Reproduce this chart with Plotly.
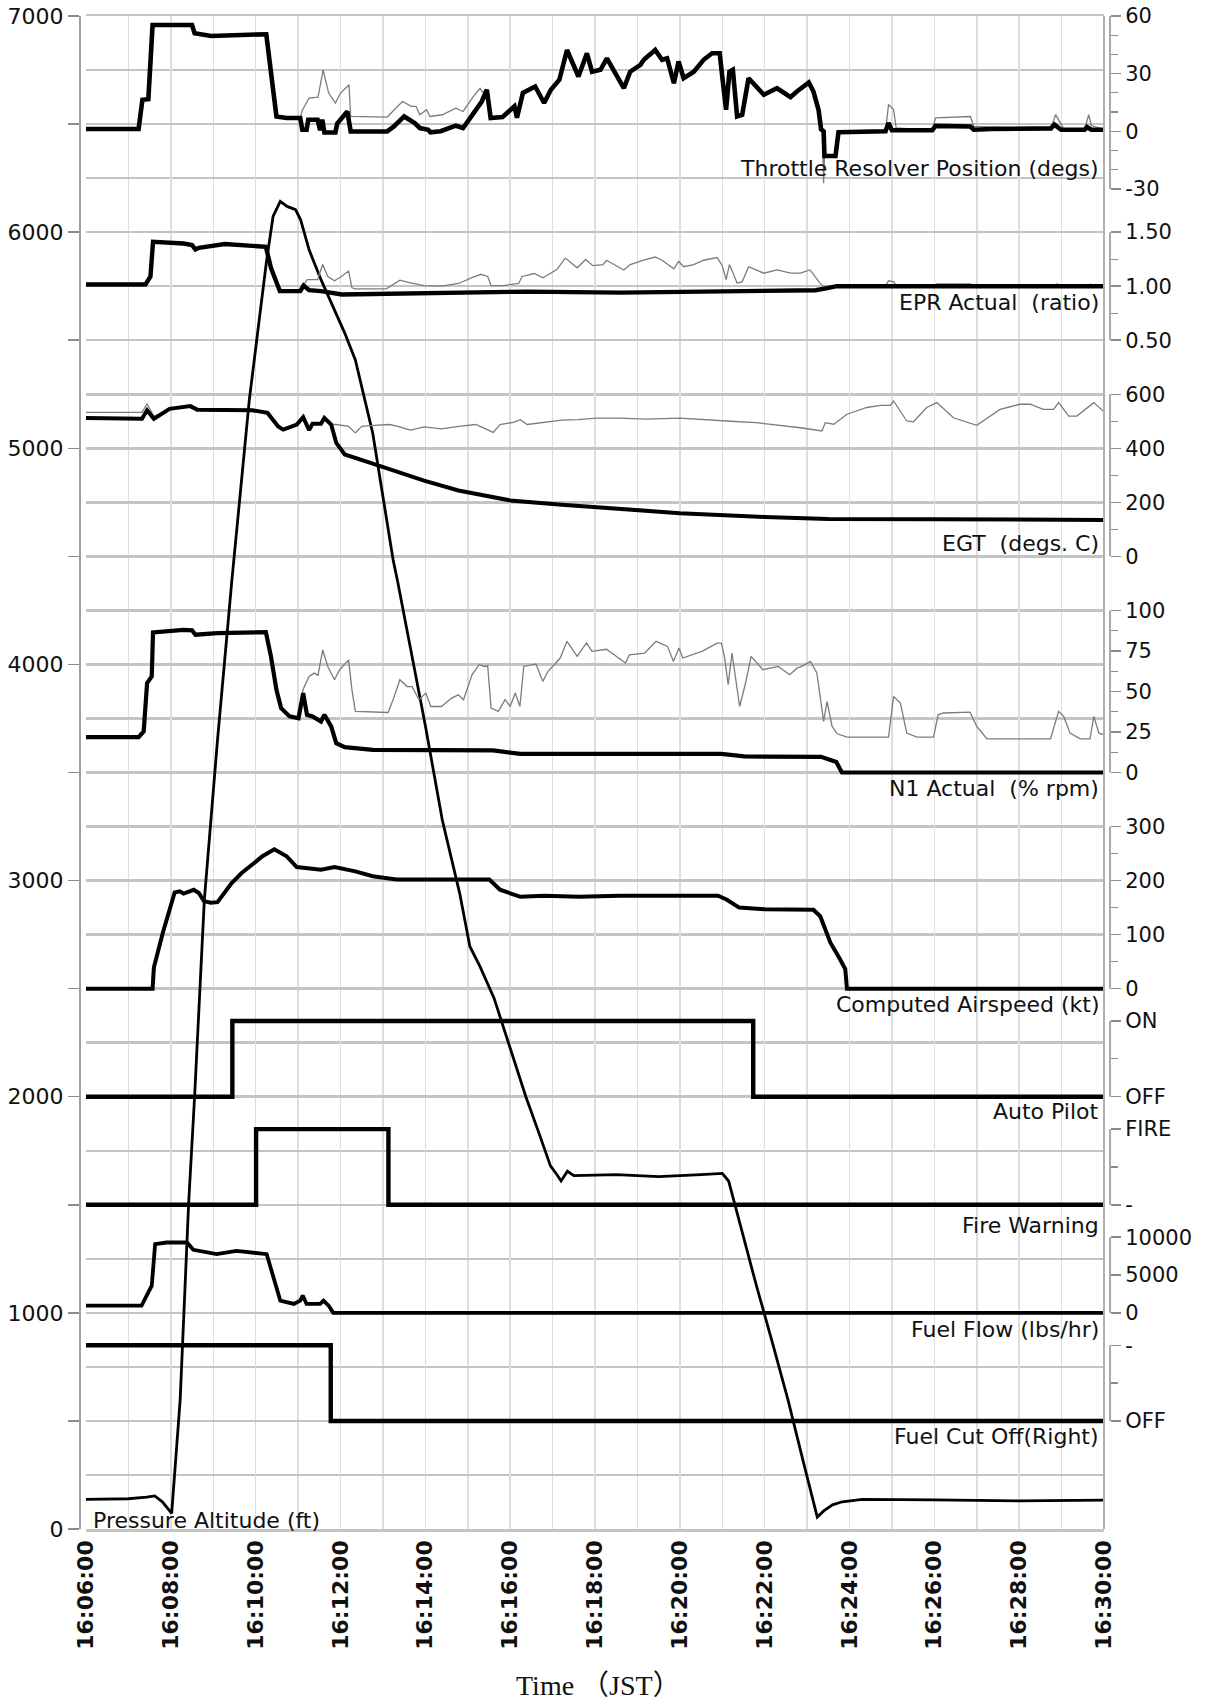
import pandas as pd
import plotly.graph_objects as go

# ---------------- DATA (time = minutes after 16:06:00 JST) ----------------
T0 = pd.Timestamp("2000-01-01 16:06:00")

# Throttle Resolver Position (degs)
thr_bold = [(0, 1.2), (1.24, 1.2), (1.33, 16.4), (1.47, 16.7), (1.57, 55.3), (2.5, 55.3), (2.56, 51), (2.95, 49.6),
            (4.25, 50.5), (4.37, 26.8), (4.49, 7.7), (4.73, 6.9), (5.05, 6.9), (5.1, 0.8), (5.2, 0.8), (5.24, 6),
            (5.46, 6), (5.52, 0.5), (5.57, 6), (5.62, -0.6), (5.88, -0.6), (5.92, 3.9), (6.16, 10.3), (6.24, -0.1),
            (7.1, -0.1), (7.26, 2.5), (7.5, 7.7), (7.75, 4.3), (7.87, 1.7), (8.07, 0.8), (8.12, -0.5), (8.36, 0),
            (8.72, 2.9), (8.89, 1.7), (9.13, 9.5), (9.33, 15.5), (9.45, 21.6), (9.54, 6.9), (9.82, 7.4), (10.0, 11.2),
            (10.1, 13), (10.16, 7), (10.3, 20), (10.59, 23.3), (10.8, 14.7), (10.96, 21.6), (11.16, 26.8), (11.34, 42.3),
            (11.61, 28.5), (11.81, 40.6), (11.93, 31), (12.13, 32), (12.28, 38), (12.68, 22.4), (12.83, 31),
            (13.07, 34.6), (13.15, 37.2), (13.42, 42.3), (13.58, 37.2), (13.7, 38), (13.86, 25), (13.97, 36.3),
            (14.09, 27.6), (14.33, 31), (14.56, 37.2), (14.76, 40.6), (14.88, 41), (14.94, 40.6), (15.0, 28.5),
            (15.09, 11.2), (15.17, 31), (15.25, 32), (15.35, 7.7), (15.47, 8.6), (15.62, 27.6), (15.74, 25),
            (15.98, 19), (16.29, 22.4), (16.61, 17.8), (16.76, 20.7), (17.04, 25.4), (17.15, 20.7), (17.27, 11.2),
            (17.33, 1), (17.39, -0.1), (17.41, -12.9), (17.67, -12.9), (17.74, -0.5), (18.85, 0), (18.92, 4.3),
            (19.0, 0.5), (19.95, 0.5), (20.03, 2.8), (20.85, 2.5), (20.93, 0.8), (21.34, 1.2), (22.75, 1.5),
            (22.83, 3.5), (22.99, 0.8), (23.54, 0.8), (23.6, 2.2), (23.7, 0.8), (24.0, 0.8)]
thr_thin = [(0, 1.2), (1.24, 1.2), (1.33, 16.4), (1.47, 16.7), (1.57, 55.3), (2.5, 55.3), (2.56, 51), (2.95, 49.6),
            (4.25, 50.5), (4.37, 26.8), (4.49, 7.7), (4.73, 6.9), (5.05, 6.9), (5.1, 11), (5.26, 17.3), (5.47, 17.8),
            (5.59, 32), (5.72, 20), (5.88, 14.7), (6.0, 19.9), (6.2, 24.2), (6.24, 7.7), (7.1, 7.4), (7.2, 9.5),
            (7.46, 15.5), (7.67, 13), (7.78, 13), (7.87, 8.6), (8.03, 11.2), (8.11, 7.7), (8.4, 8.6), (8.72, 12),
            (8.89, 10.3), (9.13, 18), (9.29, 22.4), (9.37, 20), (9.45, 21.6), (9.54, 6.9), (9.82, 7.4), (10.0, 11.2),
            (10.1, 13), (10.16, 7), (10.3, 20), (10.59, 23.3), (10.8, 14.7), (10.96, 21.6), (11.16, 26.8), (11.34, 42.3),
            (11.61, 28.5), (11.81, 40.6), (11.93, 31), (12.13, 32), (12.28, 38), (12.68, 22.4), (12.83, 31),
            (13.07, 34.6), (13.15, 37.2), (13.42, 42.3), (13.58, 37.2), (13.7, 38), (13.86, 25), (13.97, 36.3),
            (14.09, 27.6), (14.33, 31), (14.56, 37.2), (14.76, 40.6), (14.88, 41), (14.94, 40.6), (15.0, 28.5),
            (15.09, 11.2), (15.17, 31), (15.25, 32), (15.35, 7.7), (15.47, 8.6), (15.62, 27.6), (15.74, 25),
            (15.98, 19), (16.29, 22.4), (16.61, 17.8), (16.76, 20.7), (17.04, 25.4), (17.15, 20.7), (17.27, 11.2),
            (17.33, 1), (17.36, 1), (17.39, -27), (17.41, -12.9), (17.67, -12.9), (17.74, -0.5), (18.85, 0),
            (18.92, 13.9), (19.04, 11.3), (19.1, 1.7), (19.95, 0.5), (20.03, 7), (20.85, 7.7), (20.93, 2.5),
            (22.75, 1.5), (22.86, 8.7), (23.06, 1), (23.54, 0.8), (23.64, 8.7), (23.7, 3), (24.0, 1)]

# EPR Actual (ratio)
epr_bold = [(0, 1.015), (1.4, 1.015), (1.52, 1.09), (1.58, 1.41), (2.3, 1.395), (2.5, 1.38), (2.58, 1.34),
            (2.66, 1.355), (3.27, 1.39), (3.92, 1.38), (4.24, 1.365), (4.36, 1.17), (4.49, 1.03), (4.57, 0.954),
            (5.05, 0.954), (5.13, 1.006), (5.26, 0.963), (5.54, 0.954), (6.03, 0.923), (8.0, 0.935), (10.4, 0.95),
            (12.6, 0.94), (14.5, 0.95), (16.0, 0.96), (17.2, 0.963), (17.45, 0.98), (17.7, 1.0), (24.0, 1.0)]
epr_thin = [(0, 1.015), (1.4, 1.015), (1.52, 1.09), (1.58, 1.41), (2.3, 1.395), (2.5, 1.38), (2.58, 1.34),
            (2.66, 1.355), (3.27, 1.39), (3.92, 1.38), (4.24, 1.365), (4.36, 1.17), (4.49, 1.03), (4.57, 0.954),
            (5.05, 0.954), (5.21, 1.06), (5.46, 1.06), (5.58, 1.2), (5.7, 1.09), (5.86, 1.05), (6.02, 1.09),
            (6.19, 1.14), (6.27, 0.985), (6.35, 0.975), (7.08, 0.975), (7.4, 1.055), (7.65, 1.03), (7.97, 1.006),
            (8.38, 1.0), (8.78, 1.025), (9.1, 1.08), (9.31, 1.11), (9.47, 1.09), (9.55, 1.006), (9.84, 1.006),
            (10.2, 1.025), (10.28, 1.09), (10.57, 1.117), (10.77, 1.077), (11.1, 1.154), (11.3, 1.26), (11.58, 1.17),
            (11.78, 1.247), (11.95, 1.19), (12.19, 1.2), (12.27, 1.24), (12.68, 1.15), (12.83, 1.2), (13.15, 1.24),
            (13.42, 1.27), (13.58, 1.24), (13.86, 1.16), (13.97, 1.23), (14.09, 1.18), (14.33, 1.2), (14.56, 1.24),
            (14.88, 1.265), (15.0, 1.19), (15.09, 1.06), (15.17, 1.2), (15.35, 1.03), (15.47, 1.04), (15.62, 1.18),
            (15.98, 1.12), (16.29, 1.15), (16.61, 1.12), (16.84, 1.12), (17.07, 1.15), (17.3, 1.03), (17.38, 1.0),
            (18.85, 1.0), (18.92, 1.05), (19.05, 1.04), (19.1, 1.0), (20.0, 1.0), (20.05, 1.02), (20.85, 1.02),
            (20.93, 1.0), (22.8, 1.0), (22.88, 1.02), (23.05, 1.0), (23.62, 1.0), (23.68, 1.02), (23.75, 1.0),
            (24.0, 1.0)]

# EGT (degs. C)
egt_bold = [(0, 512), (1.32, 509), (1.44, 541), (1.6, 509), (1.97, 546), (2.46, 556), (2.62, 543), (3.1, 543),
            (3.92, 541), (4.28, 531), (4.53, 481), (4.65, 469), (4.97, 488), (5.12, 515), (5.26, 467), (5.34, 491),
            (5.54, 491), (5.62, 512), (5.78, 488), (5.9, 420), (6.1, 377), (6.76, 343), (7.97, 280), (8.78, 244),
            (10.0, 207), (11.22, 191), (12.58, 176), (14.0, 160), (16.0, 146), (17.5, 138), (20.0, 137),
            (24.0, 135)]
egt_thin = [(0, 533), (1.32, 533), (1.44, 565), (1.6, 518), (1.97, 546), (2.46, 556), (2.62, 543), (3.1, 543),
            (3.92, 541), (4.28, 531), (4.53, 481), (4.65, 469), (4.97, 488), (5.12, 515), (5.26, 467), (5.34, 491),
            (5.54, 491), (5.62, 512), (5.78, 488), (5.9, 488), (6.19, 481), (6.35, 457), (6.5, 481), (6.7, 484),
            (7.16, 488), (7.35, 481), (7.65, 467), (7.97, 479), (8.38, 472), (8.78, 481), (9.19, 488), (9.6, 459),
            (9.76, 488), (10.08, 496), (10.24, 506), (10.4, 488), (10.81, 496), (11.22, 504), (11.6, 506),
            (12.03, 512), (12.58, 512), (13.2, 508), (14.0, 512), (14.6, 505), (15.2, 500), (15.8, 495),
            (16.4, 485), (16.84, 476), (17.35, 464), (17.43, 495), (17.63, 489), (17.94, 526), (18.41, 551),
            (18.73, 559), (18.96, 559), (19.04, 575), (19.35, 501), (19.51, 498), (19.82, 551), (20.06, 569),
            (20.45, 513), (21.0, 485), (21.55, 544), (22.02, 563), (22.26, 563), (22.57, 544), (22.81, 544),
            (22.93, 569), (23.17, 519), (23.36, 519), (23.76, 569), (23.96, 538), (24.0, 535)]

# N1 Actual (% rpm)
n1_bold = [(0, 21.8), (1.24, 21.8), (1.36, 25.3), (1.44, 55.1), (1.55, 59.3), (1.58, 86.4), (2.3, 88), (2.5, 87.7),
           (2.58, 85), (3.1, 86), (4.24, 86.6), (4.36, 71.6), (4.49, 51), (4.6, 39.7), (4.8, 34.6), (5.01, 33.5),
           (5.12, 49), (5.21, 35.6), (5.34, 34.6), (5.46, 32.5), (5.54, 31.5), (5.62, 35.6), (5.78, 28.4),
           (5.9, 18.1), (6.1, 15.6), (6.76, 14), (7.97, 13.6), (9.6, 13.6), (10.24, 11.5), (14.98, 11.5),
           (15.52, 9.9), (17.33, 9.7), (17.69, 6.5), (17.82, 0), (24.0, 0)]
n1_thin = [(0, 21.8), (1.24, 21.8), (1.36, 25.3), (1.44, 55.1), (1.55, 59.3), (1.58, 86.4), (2.3, 88), (2.5, 87.7),
           (2.58, 85), (3.1, 86), (4.24, 86.6), (4.36, 71.6), (4.49, 51), (4.6, 39.7), (4.8, 34.6), (5.01, 33.5),
           (5.12, 51.4), (5.26, 59.3), (5.38, 61.3), (5.47, 60), (5.58, 75.7), (5.7, 65.4), (5.86, 57.2),
           (5.98, 63.4), (6.19, 69.5), (6.27, 51), (6.35, 37.7), (7.12, 37), (7.24, 44.9), (7.4, 57.2), (7.57, 53),
           (7.69, 53), (7.85, 44.9), (8.01, 49), (8.13, 40.7), (8.38, 40.7), (8.62, 45.9), (8.78, 47.9), (8.9, 44.9),
           (9.1, 60.3), (9.27, 66.5), (9.39, 65.4), (9.47, 65.8), (9.55, 39.7), (9.72, 37.7), (9.88, 44.9),
           (10.0, 40.7), (10.12, 49), (10.23, 40.7), (10.32, 65.4), (10.61, 67), (10.77, 56.2), (10.89, 62.3),
           (11.06, 67.5), (11.18, 70.6), (11.34, 80.9), (11.58, 71.6), (11.8, 80), (11.93, 74.7), (12.27, 76),
           (12.72, 67.5), (12.81, 72.6), (13.17, 73.7), (13.44, 80.9), (13.71, 77.8), (13.85, 68.5), (13.98, 76.8),
           (14.07, 70.6), (14.52, 74.7), (14.88, 79.8), (14.98, 79.8), (15.05, 71.6), (15.14, 54.2), (15.23, 73.7),
           (15.41, 40.7), (15.55, 55.2), (15.68, 71.6), (15.96, 63.4), (16.32, 65.4), (16.59, 60.3), (16.77, 64.5),
           (16.84, 65), (17.08, 68.5), (17.23, 61.4), (17.39, 31.5), (17.47, 43.8), (17.59, 28.4), (17.71, 23.9),
           (17.94, 21.8), (18.92, 21.8), (19.04, 46.9), (19.2, 42.8), (19.35, 24.3), (19.59, 21.8), (19.98, 21.8),
           (20.09, 35.6), (20.21, 36.7), (20.84, 37.2), (21.0, 28.4), (21.24, 20.8), (22.74, 20.8), (22.93, 37.7),
           (23.05, 34.6), (23.2, 24.3), (23.44, 20.8), (23.67, 20.8), (23.76, 34.6), (23.88, 24.3), (24.0, 23.3)]

# Computed Airspeed (kt)
cas = [(0, 0), (1.57, 0), (1.6, 39), (1.81, 103), (2.09, 178), (2.21, 180), (2.3, 176), (2.54, 183), (2.66, 177),
       (2.78, 162), (2.94, 159), (3.1, 160), (3.43, 195), (3.67, 214), (4.16, 245), (4.44, 258), (4.73, 245),
       (4.97, 225), (5.54, 220), (5.86, 225), (6.35, 217), (6.76, 208), (7.32, 202), (9.51, 202), (9.76, 183),
       (10.24, 170), (10.81, 172), (11.62, 170), (12.58, 172), (14.9, 172), (15.1, 165), (15.4, 150), (16.0, 147),
       (17.15, 146), (17.31, 134), (17.55, 85), (17.78, 54), (17.9, 36), (17.94, 0), (24.0, 0)]

# Discrete parameters (0 = OFF / "-", 1 = ON / FIRE / "-")
autopilot = [(0, 0), (3.45, 1), (15.73, 0), (24.0, 0)]
fire_warning = [(0, 0), (4.01, 1), (7.13, 0), (24.0, 0)]
fuel_cutoff_right = [(0, 1), (5.77, 0), (24.0, 0)]

# Fuel Flow (lbs/hr)
fuel_flow = [(0, 960), (1.31, 960), (1.43, 2280), (1.55, 3600), (1.63, 9080), (1.9, 9300), (2.38, 9300),
             (2.53, 8330), (3.08, 7760), (3.55, 8200), (4.26, 7760), (4.34, 6220), (4.46, 3600), (4.58, 1620),
             (4.9, 1180), (5.05, 1620), (5.11, 2280), (5.2, 1180), (5.52, 1180), (5.6, 1620), (5.72, 960),
             (5.83, 0), (24.0, 0)]

# Pressure Altitude (ft)
altitude = [(0, 137), (1.0, 140), (1.43, 147), (1.62, 153), (1.8, 126), (2.02, 72), (2.22, 597), (2.42, 1508),
            (2.56, 2000), (2.67, 2448), (2.79, 2911), (3.1, 3650), (3.44, 4391), (3.85, 5224), (4.25, 5857),
            (4.41, 6073), (4.58, 6142), (4.74, 6119), (4.94, 6104), (5.06, 6057), (5.26, 5918), (5.54, 5780),
            (5.86, 5641), (6.1, 5533), (6.35, 5409), (6.59, 5209), (6.76, 5070), (7.0, 4777), (7.24, 4484),
            (7.34, 4391), (7.99, 3728), (8.4, 3280), (8.81, 2941), (9.05, 2695), (9.29, 2602), (9.62, 2456),
            (10.0, 2230), (10.37, 2000), (10.7, 1820), (10.95, 1680), (11.1, 1640), (11.2, 1610), (11.35, 1655),
            (11.5, 1635), (12.5, 1640), (13.5, 1630), (14.5, 1640), (15.0, 1645), (15.15, 1610), (15.4, 1420),
            (15.8, 1130), (16.2, 850), (16.55, 597), (16.9, 320), (17.24, 55), (17.4, 85), (17.6, 112),
            (17.83, 126), (18.3, 137), (20.0, 135), (22.0, 130), (24.0, 134)]

x_tick_minutes = list(range(0, 25, 2))
left_ticks = list(range(0, 7001, 500))

# ---------------- LAYOUT HELPERS ----------------
FIG_W, FIG_H = 1211, 1706
ML, MT = 79, 16                   # plot paper starts at x=79, y=16
MR = FIG_W - 1112                 # paper ends at x=1112
MB = FIG_H - 1529                 # paper bottom at y=1529
PW = FIG_W - ML - MR
PH = FIG_H - MT - MB


def px_x(px):
    return (px - ML) / PW


def tm(mins):
    return [T0 + pd.Timedelta(minutes=float(m)) for m in mins]


def split(pairs):
    t, v = zip(*pairs)
    return tm(t), list(v)


X_DOM = [px_x(86), px_x(1104)]
P_RIGHT = px_x(1110)
LABEL_X = px_x(1101)
LEFT_MAX = 7000

FONT = "DejaVu Sans, Verdana, sans-serif"
GRID_H = "#c4c4c4"
GRID_V = "#dedede"
AXC = "#8c8c8c"

# band axis definitions: value range -> left-axis band (lo..hi)
bands = {
    "y2": dict(vmin=-30, vmax=60, lo=6200, hi=7000, tv=[-30, 0, 30, 60], tt=["-30", "0", "30", "60"],
               minor=[-20, -10, 10, 20, 40, 50], label="Throttle Resolver Position (degs)", ly=6293),
    "y3": dict(vmin=0.5, vmax=1.5, lo=5500, hi=6000, tv=[0.5, 1.0, 1.5], tt=["0.50", "1.00", "1.50"],
               minor=[0.75, 1.25], label="EPR Actual  (ratio)", ly=5673),
    "y4": dict(vmin=0, vmax=600, lo=4500, hi=5250, tv=[0, 200, 400, 600], tt=["0", "200", "400", "600"],
               minor=[100, 300, 500], label="EGT  (degs. C)", ly=4560),
    "y5": dict(vmin=0, vmax=100, lo=3500, hi=4250, tv=[0, 25, 50, 75, 100], tt=["0", "25", "50", "75", "100"],
               minor=[12.5, 37.5, 62.5, 87.5], label="N1 Actual  (% rpm)", ly=3424),
    "y6": dict(vmin=0, vmax=300, lo=2500, hi=3250, tv=[0, 100, 200, 300], tt=["0", "100", "200", "300"],
               minor=[50, 150, 250], label="Computed Airspeed (kt)", ly=2427),
    "y7": dict(vmin=0, vmax=1, lo=2000, hi=2350, tv=[0, 1], tt=["OFF", "ON"], minor=[0.5],
               label="Auto Pilot", ly=1930),
    "y8": dict(vmin=0, vmax=1, lo=1500, hi=1850, tv=[0, 1], tt=["-", "FIRE"], minor=[0.5],
               label="Fire Warning", ly=1402),
    "y9": dict(vmin=0, vmax=10000, lo=1000, hi=1350, tv=[0, 5000, 10000], tt=["0", "5000", "10000"], minor=[],
               label="Fuel Flow (lbs/hr)", ly=921),
    "y10": dict(vmin=0, vmax=1, lo=500, hi=850, tv=[0, 1], tt=["OFF", "-"], minor=[0.5],
                label="Fuel Cut Off(Right)", ly=426),
}

fig = go.Figure()


def add(pairs, yaxis, color, width, shape="linear"):
    x, y = split(pairs)
    fig.add_trace(go.Scatter(x=x, y=y, mode="lines", yaxis=yaxis, showlegend=False, hoverinfo="skip",
                             line=dict(color=color, width=width, shape=shape)))


THIN = "#7c7c7c"
# thin (second engine) traces first
add(thr_thin, "y2", THIN, 1.3)
add(epr_thin, "y3", THIN, 1.3)
add(egt_thin, "y4", THIN, 1.3)
add(n1_thin, "y5", THIN, 1.3)
# bold traces
add(thr_bold, "y2", "#000", 4.6)
add(epr_bold, "y3", "#000", 4.4)
add(egt_bold, "y4", "#000", 4.0)
add(n1_bold, "y5", "#000", 4.2)
add(cas, "y6", "#000", 4.0)
add(autopilot, "y7", "#000", 4.4, "hv")
add(fire_warning, "y8", "#000", 4.4, "hv")
add(fuel_flow, "y9", "#000", 3.8)
add(fuel_cutoff_right, "y10", "#000", 4.4, "hv")
add(altitude, "y", "#000", 2.8)

layout = dict(
    width=FIG_W, height=FIG_H,
    margin=dict(l=ML, r=MR, t=MT, b=MB, autoexpand=False),
    paper_bgcolor="white", plot_bgcolor="rgba(0,0,0,0)",
    showlegend=False, hovermode=False,
    font=dict(family=FONT, size=20, color="#111"),
    xaxis=dict(
        domain=X_DOM, type="date", range=[T0, T0 + pd.Timedelta(minutes=24)], automargin=False,
        tickmode="array", tickvals=tm(x_tick_minutes), tickformat="%H:%M:%S", tickangle=-90,
        tickfont=dict(family=FONT, size=22, weight="bold", color="#111"),
        ticks="", showgrid=True, gridcolor=GRID_V, gridwidth=1.5, ticklabeloverflow="allow",
        minor=dict(tickmode="array", tickvals=tm(range(1, 24, 2)), showgrid=True, gridcolor=GRID_V,
                   gridwidth=1.5, ticks=""),
        showline=True, linecolor=GRID_H, linewidth=2.5, mirror=True, zeroline=False, anchor="y",
    ),
    yaxis=dict(
        domain=[0, 1], range=[0, LEFT_MAX], anchor="free", position=0, side="left", automargin=False,
        tickmode="array", tickvals=left_ticks, ticklabeloverflow="allow",
        ticktext=[str(v) if v % 1000 == 0 else "" for v in left_ticks],
        ticks="outside", ticklen=11, tickwidth=1.5, tickcolor=AXC,
        showline=True, linecolor="#a0a0a0", linewidth=1.5,
        showgrid=True, gridcolor=GRID_H, gridwidth=2.5, zeroline=False,
        minor=dict(tickmode="array", tickvals=list(range(250, 7000, 500)), showgrid=True,
                   gridcolor=GRID_H, gridwidth=2.5, ticks=""),
        tickfont=dict(size=22),
    ),
)

shapes = [dict(type="line", xref="x domain", yref="y domain", x0=1, x1=1, y0=0, y1=1,
               line=dict(color="#b0b0b0", width=2))]
annotations = []

for ax_id, b in bands.items():
    k = (b["vmax"] - b["vmin"]) / (b["hi"] - b["lo"])
    rng = [b["vmin"] - k * b["lo"], b["vmin"] + k * (LEFT_MAX - b["lo"])]
    key = "yaxis" + ax_id[1:]
    layout[key] = dict(
        overlaying="y", anchor="free", position=P_RIGHT, side="right", range=rng, automargin=False,
        tickmode="array", tickvals=b["tv"], ticktext=b["tt"], ticklabeloverflow="allow",
        ticks="outside", ticklen=10, tickwidth=1.5, tickcolor=AXC,
        showline=False, showgrid=False, zeroline=False,
        tickfont=dict(size=21, color="#111"),
        minor=dict(tickmode="array", tickvals=b["minor"], ticks="outside", ticklen=7,
                   tickwidth=1.2, tickcolor=AXC, showgrid=False),
    )
    shapes.append(dict(type="line", xref="paper", yref=ax_id, x0=P_RIGHT, x1=P_RIGHT,
                       y0=b["vmin"], y1=b["vmax"], line=dict(color=AXC, width=1.5)))
    annotations.append(dict(text=b["label"], xref="paper", yref="y", x=LABEL_X, y=b["ly"],
                            xanchor="right", yanchor="middle", showarrow=False,
                            font=dict(family=FONT, size=22, color="#111")))

annotations.append(dict(text="Pressure Altitude (ft)", xref="paper", yref="y", x=px_x(91), y=40,
                        xanchor="left", yanchor="middle", showarrow=False,
                        font=dict(family=FONT, size=22, color="#111")))
annotations.append(dict(text="Time （JST）", xref="paper", yref="paper", x=px_x(598),
                        y=(1529 - 1686) / PH, xanchor="center", yanchor="middle", showarrow=False,
                        font=dict(family="Liberation Serif, Noto Sans CJK JP, serif", size=28, color="#111")))

layout["shapes"] = shapes
layout["annotations"] = annotations
fig.update_layout(**layout)

# remove the page's default 8px body margin so the figure fills the window exactly; hide the modebar
fig.write_html("out.html", config={"displayModeBar": False, "staticPlot": True},
               post_script="document.body.style.margin='0px';")
